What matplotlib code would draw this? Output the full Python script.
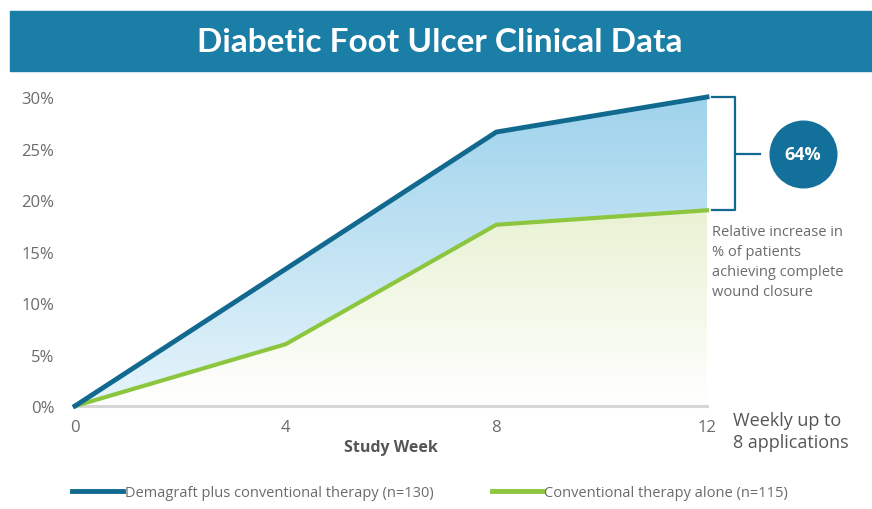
import numpy as np
import matplotlib
matplotlib.use("Agg")
import matplotlib.pyplot as plt
from matplotlib.patches import Rectangle
from matplotlib.lines import Line2D

plt.rcParams['font.family'] = ['Open Sans', 'DejaVu Sans']

# data
weeks = [0, 4, 8, 12]
demagraft = [0, 13.3, 26.6, 30.0]
conventional = [0, 6.0, 17.6, 19.0]
y_ticks = [0, 5, 10, 15, 20, 25, 30]
y_labels = ["0%", "5%", "10%", "15%", "20%", "25%", "30%"]
x_ticks = [0, 4, 8, 12]
legend_labels = ["Demagraft plus conventional therapy (n=130)",
                 "Conventional therapy alone (n=115)"]
relative_increase = "64%"

dark_blue = "#12698f"
green = "#8cc63f"
gray = "#6b6b6b"

fig = plt.figure(figsize=(8.72, 5.10), dpi=100)

# title bar
fig.patches.append(Rectangle((10 / 872, 1 - 72 / 510), 1, 60 / 510,
                             transform=fig.transFigure, color="#1a7ea6", zorder=0))
fig.text(440 / 872, 1 - 43 / 510, "Diabetic Foot Ulcer Clinical Data",
         color="white", fontsize=24, fontweight="bold", ha="center", va="center",
         family="Lato")

ax = fig.add_axes([75 / 872, 1 - 407 / 510, 632 / 872, 309 / 510])
ax.set_xlim(0, 12)
ax.set_ylim(0, 30)

# gradient fills clipped to the polygons
blue_poly = ax.fill_between(weeks, conventional, demagraft, color="none", lw=0)
green_poly = ax.fill_between(weeks, 0, conventional, color="none", lw=0)

grad = np.linspace(0, 1, 256).reshape(-1, 1)
blue_cmap = matplotlib.colors.LinearSegmentedColormap.from_list("b", ["#e6f4fb", "#9fd3ec"])
green_cmap = matplotlib.colors.LinearSegmentedColormap.from_list("g", ["#ffffff", "#e9f2d4"])
im1 = ax.imshow(grad, extent=[0, 12, 0, 30], origin="lower", cmap=blue_cmap,
                aspect="auto", zorder=1)
im1.set_clip_path(blue_poly.get_paths()[0], transform=ax.transData)
im2 = ax.imshow(grad, extent=[0, 12, 0, 19], origin="lower", cmap=green_cmap,
                aspect="auto", zorder=1)
im2.set_clip_path(green_poly.get_paths()[0], transform=ax.transData)

ax.plot([0, 12], [0, 0], color="#d6d6d6", lw=2.2, zorder=2, clip_on=False)
ax.plot(weeks, conventional, color=green, lw=3, zorder=3, clip_on=False)
ax.plot(weeks, demagraft, color=dark_blue, lw=3.5, zorder=4, clip_on=False)

for s in ax.spines.values():
    s.set_visible(False)
ax.set_yticks(y_ticks)
ax.set_yticklabels(y_labels)
ax.set_xticks(x_ticks)
ax.tick_params(length=0, colors=gray, labelsize=12)
ax.tick_params(axis="y", pad=15)
ax.tick_params(axis="x", pad=9)
ax.set_xlabel("Study Week", fontsize=11.5, fontweight="bold", color="#555555", labelpad=3)

# bracket + circle
top, bot = demagraft[-1], conventional[-1]
mid = (top + bot) / 2
ax.plot([12.09, 12.53, 12.53, 12.09], [top, top, bot, bot], color=dark_blue,
        lw=1.6, clip_on=False)
ax.plot([12.53, 13.0], [mid, mid], color=dark_blue, lw=1.6, clip_on=False)
ax.scatter([13.82], [mid], s=2300, color="#13709a", clip_on=False, zorder=5)
ax.text(13.82, mid, relative_increase, color="white", fontsize=13, fontweight="bold",
        ha="center", va="center", zorder=6)
ax.text(12.1, 17.7, "Relative increase in\n% of patients\nachieving complete\nwound closure",
        color=gray, fontsize=10.5, ha="left", va="top", linespacing=1.45)
ax.text(12.5, -2.4, "Weekly up to\n8 applications", color="#555555", fontsize=13,
        ha="left", va="center", linespacing=1.3)

handles = [Line2D([], [], color=dark_blue, lw=3.5), Line2D([], [], color=green, lw=3.5)]
fig.legend(handles, legend_labels, loc="center", bbox_to_anchor=(430 / 872, 1 - 494 / 510),
           ncol=2, frameon=False, fontsize=10.5, handlelength=3.5, handletextpad=0.1,
           columnspacing=4, labelcolor=gray)

fig.savefig("out.png", dpi=100)
